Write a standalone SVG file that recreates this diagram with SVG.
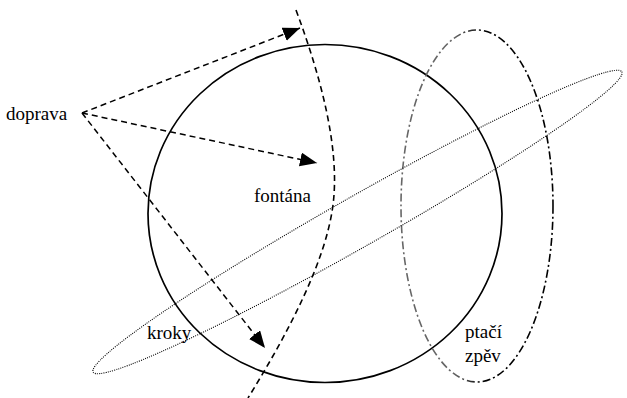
<svg xmlns="http://www.w3.org/2000/svg" width="627" height="398" viewBox="0 0 627 398">
<defs>
<style>
text{font-family:"Liberation Serif","Times New Roman","DejaVu Serif",serif;font-size:19px;fill:#000}
.dash{fill:none;stroke:#000;stroke-width:1.6;stroke-dasharray:6,4}
.arrow{fill:none;stroke:#000;stroke-width:1.5;stroke-dasharray:6,4;marker-end:url(#ah)}
</style>
<marker id="ah" markerUnits="userSpaceOnUse" markerWidth="18" markerHeight="16" refX="17" refY="7" orient="auto">
<path d="M0,0 L17,7 L0,14 z" fill="#000"/>
</marker>
<linearGradient id="lg" gradientUnits="userSpaceOnUse" x1="400" y1="0" x2="555" y2="0">
<stop offset="0" stop-color="#666"/>
<stop offset="0.35" stop-color="#666"/>
<stop offset="0.55" stop-color="#000"/>
<stop offset="1" stop-color="#000"/>
</linearGradient>
</defs>
<g id="fontana">
<ellipse cx="325" cy="213.5" rx="177" ry="169" fill="none" stroke="#000" stroke-width="1.7"/>
<text x="254" y="202">fontána</text>
</g>
<g id="ptaci-zpev">
<ellipse cx="477" cy="206" rx="76" ry="176" fill="none" stroke="url(#lg)" stroke-width="1.6" stroke-dasharray="8,3,2,3"/>
<text x="465" y="338">ptačí</text>
<text x="465" y="362">zpěv</text>
</g>
<g id="kroky">
<ellipse cx="357.5" cy="222" rx="304" ry="25" transform="rotate(-29.6 357.5 222)" fill="none" stroke="#000" stroke-width="1.1" stroke-dasharray="1,1.2"/>
<text x="147" y="339">kroky</text>
</g>
<g id="fontana-boundary">
<path class="dash" d="M296,10 C322,80 340,150 333,205 S290,330 248,398"/>
</g>
<g id="doprava">
<text x="6" y="120">doprava</text>
</g>
<g id="connectors">
<line class="arrow" x1="82" y1="113" x2="300" y2="28"/>
<line class="arrow" x1="82" y1="113" x2="317" y2="163"/>
<line class="arrow" x1="82" y1="113" x2="265" y2="348"/>
</g>
</svg>
